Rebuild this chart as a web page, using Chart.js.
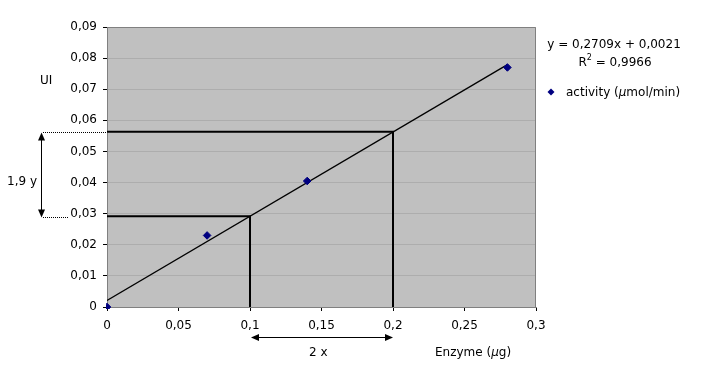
<!DOCTYPE html>
<html>
<head>
<meta charset="utf-8">
<script src="https://cdn.jsdelivr.net/npm/chart.js@4/dist/chart.umd.min.js"></script>
<style>
  html, body { margin: 0; padding: 0; background: #ffffff; }
  #wrap { width: 707px; height: 370px; }
</style>
</head>
<body>
<div id="wrap"><canvas id="c" width="707" height="370"></canvas></div>
<script>
// ---- data ----
const enzymeX = [0, 0.07, 0.14, 0.28];
const activityY = [0, 0.023, 0.0405, 0.077];
const seriesLabel = 'activity (µmol/min)';
const trendX = [0, 0.28];
const trendY = [0.0021, 0.0779];
const guideX = [0.1, 0.2];
const guideY = [0.0292, 0.0563];
const yTickLabels = ['0', '0,01', '0,02', '0,03', '0,04', '0,05', '0,06', '0,07', '0,08', '0,09'];
const xTickLabels = ['0', '0,05', '0,1', '0,15', '0,2', '0,25', '0,3'];
const equationText = 'y = 0,2709x + 0,0021';
const r2Text = ' = 0,9966';
const yTitle = 'UI';
const xTitle = ['Enzyme (', 'µ', 'g)'];
const yAnnot = '1,9 y';
const xAnnot = '2 x';

const FONT = '"DejaVu Sans", Verdana, sans-serif';
const NAVY = '#000080';

function pts(xs, ys) { return xs.map((v, i) => ({ x: v, y: ys[i] })); }

function arrowHead(ctx, x, y, dir) {
  const L = 8, W = 3.5;
  ctx.beginPath();
  if (dir === 'up') { ctx.moveTo(x, y); ctx.lineTo(x - W, y + L); ctx.lineTo(x + W, y + L); }
  if (dir === 'down') { ctx.moveTo(x, y); ctx.lineTo(x - W, y - L); ctx.lineTo(x + W, y - L); }
  if (dir === 'left') { ctx.moveTo(x, y); ctx.lineTo(x + L, y - W); ctx.lineTo(x + L, y + W); }
  if (dir === 'right') { ctx.moveTo(x, y); ctx.lineTo(x - L, y - W); ctx.lineTo(x - L, y + W); }
  ctx.closePath();
  ctx.fill();
}

function richText(ctx, parts, x, y) {
  let cx = x;
  parts.forEach(([t, it]) => {
    ctx.font = (it ? 'italic ' : '') + '12px ' + FONT;
    ctx.fillText(t, cx, y);
    cx += ctx.measureText(t).width;
  });
}

const bgPlugin = {
  id: 'bg',
  beforeDraw(chart) {
    const { ctx, chartArea: a } = chart;
    ctx.save();
    ctx.fillStyle = '#c0c0c0';
    ctx.fillRect(a.left, a.top, a.right - a.left, a.bottom - a.top);
    ctx.restore();
  }
};

const annotPlugin = {
  id: 'annot',
  afterDraw(chart) {
    const { ctx, chartArea: a, scales } = chart;
    const xs = scales.x, ys = scales.y;
    ctx.save();
    ctx.strokeStyle = '#808080';
    ctx.lineWidth = 1;
    ctx.beginPath();
    ctx.moveTo(a.left, a.top + 0.5);
    ctx.lineTo(a.right - 0.5, a.top + 0.5);
    ctx.lineTo(a.right - 0.5, a.bottom);
    ctx.stroke();

    const yHi = Math.round(ys.getPixelForValue(guideY[1])) + 0.5;
    const yLo = Math.round(ys.getPixelForValue(guideY[0])) + 1.5;
    ctx.strokeStyle = '#000';
    ctx.setLineDash([1, 1]);
    ctx.beginPath();
    ctx.moveTo(43, yHi); ctx.lineTo(a.left, yHi);
    ctx.moveTo(43, yLo); ctx.lineTo(68, yLo);
    ctx.stroke();
    ctx.setLineDash([]);

    ctx.fillStyle = '#000';
    ctx.lineWidth = 1;
    ctx.beginPath();
    ctx.moveTo(41.5, yHi + 4); ctx.lineTo(41.5, yLo - 4);
    ctx.stroke();
    arrowHead(ctx, 41.5, yHi, 'up');
    arrowHead(ctx, 41.5, yLo, 'down');

    const xL = xs.getPixelForValue(guideX[0]), xR = xs.getPixelForValue(guideX[1]);
    const ya = 337.5;
    ctx.beginPath();
    ctx.moveTo(xL + 4, ya); ctx.lineTo(xR - 4, ya);
    ctx.stroke();
    arrowHead(ctx, xL + 1, ya, 'left');
    arrowHead(ctx, xR, ya, 'right');

    ctx.fillStyle = '#000';
    ctx.textBaseline = 'alphabetic';
    ctx.textAlign = 'left';
    ctx.font = '12px ' + FONT;
    ctx.fillText(yTitle, 40, 84);
    ctx.fillText(yAnnot, 7, 185);
    ctx.fillText(xAnnot, 309, 356);
    richText(ctx, [[xTitle[0], false], [xTitle[1], true], [xTitle[2], false]], 435, 356);

    ctx.font = '12px ' + FONT;
    ctx.textAlign = 'center';
    ctx.fillText(equationText, 614, 48);
    ctx.textAlign = 'left';
    const rW = ctx.measureText('R').width;
    ctx.font = '8px ' + FONT;
    const sW = ctx.measureText('2').width;
    ctx.font = '12px ' + FONT;
    const eW = ctx.measureText(r2Text).width;
    let sx = 615 - (rW + sW + eW) / 2;
    ctx.fillText('R', sx, 66);
    ctx.font = '8px ' + FONT;
    ctx.fillText('2', sx + rW, 60);
    ctx.font = '12px ' + FONT;
    ctx.fillText(r2Text, sx + rW + sW, 66);

    ctx.fillStyle = NAVY;
    ctx.beginPath();
    ctx.moveTo(551, 88.5); ctx.lineTo(554.5, 92); ctx.lineTo(551, 95.5); ctx.lineTo(547.5, 92);
    ctx.closePath(); ctx.fill();
    ctx.fillStyle = '#000';
    const lp = seriesLabel.split('µ');
    richText(ctx, [[lp[0], false], ['µ', true], [lp[1], false]], 566, 96);
    ctx.restore();
  }
};

new Chart(document.getElementById('c'), {
  type: 'scatter',
  data: {
    datasets: [
      {
        label: seriesLabel,
        data: pts(enzymeX, activityY),
        pointStyle: 'rectRot',
        pointRadius: 3.8,
        pointBackgroundColor: NAVY,
        pointBorderColor: NAVY,
        pointBorderWidth: 1,
        showLine: false,
        clip: { left: 1, top: 6, right: 6, bottom: 2 }
      },
      {
        label: 'trend',
        data: pts(trendX, trendY),
        showLine: true,
        borderColor: '#000',
        borderWidth: 1.3,
        pointRadius: 0
      },
      {
        label: 'guide1',
        data: [{ x: 0, y: guideY[0] }, { x: guideX[0], y: guideY[0] }, { x: guideX[0], y: 0 }],
        showLine: true,
        borderColor: '#000',
        borderWidth: 2,
        pointRadius: 0
      },
      {
        label: 'guide2',
        data: [{ x: 0, y: guideY[1] }, { x: guideX[1], y: guideY[1] }, { x: guideX[1], y: 0 }],
        showLine: true,
        borderColor: '#000',
        borderWidth: 2,
        pointRadius: 0
      }
    ]
  },
  options: {
    responsive: false,
    animation: false,
    devicePixelRatio: 1,
    layout: { padding: { top: 27, right: 171, left: 0, bottom: 0 } },
    plugins: { legend: { display: false }, tooltip: { enabled: false } },
    scales: {
      x: {
        type: 'linear',
        min: 0, max: 0.3,
        afterFit(s) { s.height = 63; },
        ticks: {
          stepSize: 0.05,
          padding: 8,
          color: '#000',
          font: { family: FONT, size: 12 },
          maxRotation: 0,
          callback: (v, i) => xTickLabels[i]
        },
        grid: { drawOnChartArea: false, drawTicks: true, tickLength: 4, tickColor: '#000', lineWidth: 1 },
        border: { color: '#808080', width: 1 }
      },
      y: {
        type: 'linear',
        min: 0, max: 0.09,
        afterFit(s) { s.width = 107; },
        ticks: {
          stepSize: 0.01,
          padding: 6,
          color: '#000',
          font: { family: FONT, size: 12 },
          callback: (v, i) => yTickLabels[i]
        },
        grid: { color: '#adadad', tickColor: '#000', tickLength: 4, lineWidth: 1 },
        border: { color: '#808080', width: 1 }
      }
    }
  },
  plugins: [bgPlugin, annotPlugin]
});
</script>
</body>
</html>
